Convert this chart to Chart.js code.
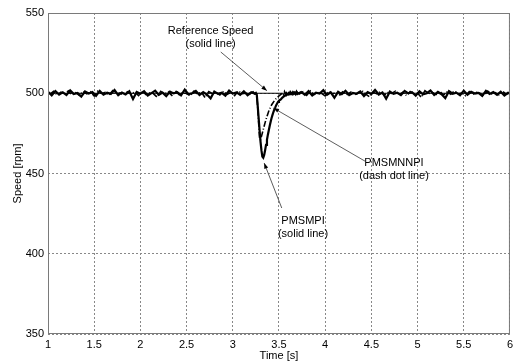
<html lang="en">
<head>
    <meta charset="UTF-8">
    <title>Speed response</title>
    <style>
        body { margin: 0; background: #fff; }
    </style>
</head>
<body>
    <canvas id="myChart" width="517" height="363"></canvas>

    <script src="https://cdn.jsdelivr.net/npm/chart.js@4"></script>
    <script>
        // time axis of PMSMPI [s]
        let piTime = [
            1.00,1.04,1.08,1.12,1.16,1.20,1.24,1.28,1.32,1.36,
            1.40,1.44,1.48,1.52,1.56,1.60,1.64,1.68,1.72,1.76,
            1.80,1.84,1.88,1.92,1.96,2.00,2.04,2.08,2.12,2.16,
            2.20,2.24,2.28,2.32,2.36,2.40,2.44,2.48,2.52,2.56,
            2.60,2.64,2.68,2.72,2.76,2.80,2.84,2.88,2.92,2.96,
            3.00,3.04,3.08,3.12,3.16,3.20,3.24,
            3.25,3.26,3.27,3.28,3.29,3.30,3.31,3.32,3.33,3.34,
            3.35,3.36,3.37,3.38,3.39,3.40,3.41,3.42,3.43,3.44,
            3.45,3.46,3.47,3.48,3.49,3.50,3.51,3.52,3.53,3.54,
            3.55,3.56,3.57,3.58,3.59,3.60,3.61,3.62,3.63,3.64,
            3.65,3.66,3.67,3.68,3.69,3.70,
            3.74,3.78,3.82,3.86,3.90,3.94,3.98,4.02,4.06,4.10,
            4.14,4.18,4.22,4.26,4.30,4.34,4.38,4.42,4.46,4.50,
            4.54,4.58,4.62,4.66,4.70,4.74,4.78,4.82,4.86,4.90,
            4.94,4.98,5.02,5.06,5.10,5.14,5.18,5.22,5.26,5.30,
            5.34,5.38,5.42,5.46,5.50,5.54,5.58,5.62,5.66,5.70,
            5.74,5.78,5.82,5.86,5.90,5.94,5.98,6.00
        ];
        // time axis of PMSMNNPI [s]
        let nnTime = [
            1.02,1.06,1.10,1.14,1.18,1.22,1.26,1.30,1.34,1.38,
            1.42,1.46,1.50,1.54,1.58,1.62,1.66,1.70,1.74,1.78,
            1.82,1.86,1.90,1.94,1.98,2.02,2.06,2.10,2.14,2.18,
            2.22,2.26,2.30,2.34,2.38,2.42,2.46,2.50,2.54,2.58,
            2.62,2.66,2.70,2.74,2.78,2.82,2.86,2.90,2.94,2.98,
            3.02,3.06,3.10,3.14,3.18,3.22,3.24,
            3.25,3.26,3.27,3.28,3.29,3.30,3.31,3.32,3.33,3.34,
            3.35,3.36,3.37,3.38,3.39,3.40,3.41,3.42,3.43,3.44,
            3.45,3.46,3.47,3.48,3.49,3.50,3.51,3.52,3.53,3.54,
            3.55,3.56,3.57,3.58,3.59,3.60,3.61,3.62,3.63,3.64,
            3.65,3.66,3.67,3.68,3.69,3.70,
            3.72,3.76,3.80,3.84,3.88,3.92,3.96,4.00,4.04,4.08,
            4.12,4.16,4.20,4.24,4.28,4.32,4.36,4.40,4.44,4.48,
            4.52,4.56,4.60,4.64,4.68,4.72,4.76,4.80,4.84,4.88,
            4.92,4.96,5.00,5.04,5.08,5.12,5.16,5.20,5.24,5.28,
            5.32,5.36,5.40,5.44,5.48,5.52,5.56,5.60,5.64,5.68,
            5.72,5.76,5.80,5.84,5.88,5.92,5.96,6.00
        ];
        // PMSMPI speed [rpm] (solid line)
        let piSpeed = [
            500.9,498.7,501.4,499.2,500.6,498.9,501.8,499.5,500.2,497.9,
            501.1,499.8,500.7,498.4,501.5,499.1,500.3,499.6,502.0,498.8,
            500.5,499.3,501.2,496.4,500.8,499.7,501.3,498.6,500.1,501.6,
            499.0,500.4,498.2,501.0,499.9,500.6,498.7,502.2,499.4,500.0,
            501.4,498.9,500.7,499.2,496.8,501.1,499.6,500.3,498.5,501.7,
            499.8,500.5,499.0,501.2,498.8,500.6,499.7,
            500.2,499.0,492.0,484.5,477.0,470.0,464.5,460.5,459.8,461.5,
            464.5,467.8,471.0,474.2,477.0,479.8,482.3,484.6,486.5,488.3,
            489.9,491.2,492.6,493.6,494.6,495.3,495.8,496.2,496.9,497.4,
            498.0,498.3,498.8,498.7,499.4,499.2,499.9,499.5,500.3,499.8,
            500.6,499.7,500.4,499.5,500.8,499.6,
            500.8,499.1,501.3,498.6,500.4,499.8,501.9,499.0,500.6,497.2,
            500.9,499.4,501.5,498.9,500.2,499.7,501.1,498.3,500.7,499.5,
            502.1,499.2,500.5,496.6,501.0,499.6,500.3,498.8,501.4,499.9,
            500.6,498.5,501.2,499.3,500.0,501.7,498.9,500.8,499.4,496.9,
            501.3,499.7,500.4,498.7,501.6,499.1,500.9,499.8,500.2,498.4,
            501.5,499.5,500.7,499.0,501.0,498.6,500.3,499.9
        ];
        // PMSMNNPI speed [rpm] (dash dot line)
        let nnSpeed = [
            499.3,501.2,498.9,500.7,499.5,501.5,499.0,500.4,498.6,501.1,
            499.7,500.9,498.3,501.3,499.9,500.5,498.8,501.6,499.4,500.2,
            498.9,501.0,499.6,500.7,498.5,501.4,499.2,500.3,499.8,497.6,
            501.2,499.5,500.9,498.7,501.5,499.1,500.4,499.9,498.4,501.3,
            499.6,500.8,497.3,501.0,499.7,500.5,498.9,501.2,499.3,500.6,
            498.6,501.4,499.8,500.1,499.2,500.9,499.5,
            499.8,498.6,491.0,481.5,471.5,471.0,473.0,475.2,477.4,479.6,
            481.7,483.7,485.6,487.3,488.9,490.3,491.6,492.7,493.6,494.5,
            495.3,496.0,496.7,497.3,497.8,498.3,498.8,499.3,499.6,500.2,
            499.2,501.0,499.6,500.3,498.9,501.2,499.5,500.7,499.1,500.9,
            499.4,500.5,499.8,501.1,499.3,500.6,
            499.5,500.9,498.7,501.4,499.2,500.6,499.9,498.4,501.2,499.6,
            500.5,498.9,501.7,499.3,500.8,499.0,500.3,501.5,499.4,497.8,
            500.7,499.6,501.1,498.8,500.4,499.9,501.3,499.1,500.6,498.6,
            501.0,499.5,500.2,497.4,501.6,499.8,500.5,499.2,501.2,498.9,
            500.8,499.4,501.4,499.7,500.1,498.5,501.0,499.3,500.6,499.9,
            498.8,501.3,499.6,500.4,499.0,501.1,499.5,500.3
        ];
        // reference speed [rpm]
        let refTime = [1, 6];
        let refSpeed = [500, 500];

        let xTicks = [1, 1.5, 2, 2.5, 3, 3.5, 4, 4.5, 5, 5.5, 6];
        let yTicks = [350, 400, 450, 500, 550];

        let fontName = "'Liberation Sans', Arial, sans-serif";

        // text labels with arrows, in data units
        let notes = [
            {lines: ['Reference Speed', '(solid line)'], at: [2.76, 539.0], gap: 8.1, from: [2.87, 525.7], to: [3.37, 501.6]},
            {lines: ['PMSMNNPI', '(dash dot line)'], at: [4.745, 456.5], gap: 8.1, from: [4.44, 457.4], to: [3.44, 490.8]},
            {lines: ['PMSMPI', '(solid line)'], at: [3.76, 420.4], gap: 8.1, from: [3.53, 428.5], to: [3.34, 456.5]}
        ];

        function pairs(xs, ys) {
            return xs.map((x, i) => ({x: x, y: ys[i]}));
        }

        let framePlugin = {
            id: 'frame',
            afterDatasetsDraw(chart) {
                let ctx = chart.ctx;
                let a = chart.chartArea;
                let sx = chart.scales.x, sy = chart.scales.y;
                ctx.save();
                ctx.strokeStyle = '#7a7a7a';
                ctx.lineWidth = 1;
                ctx.strokeRect(a.left + 0.5, a.top + 0.5, a.right - a.left - 1, a.bottom - a.top - 1);

                // annotations
                ctx.font = '11px ' + fontName;
                ctx.fillStyle = '#000';
                ctx.textAlign = 'center';
                ctx.textBaseline = 'middle';
                notes.forEach(n => {
                    n.lines.forEach((t, i) => {
                        ctx.fillText(t, sx.getPixelForValue(n.at[0]), sy.getPixelForValue(n.at[1] - i * n.gap));
                    });
                    let x1 = sx.getPixelForValue(n.from[0]), y1 = sy.getPixelForValue(n.from[1]);
                    let x2 = sx.getPixelForValue(n.to[0]), y2 = sy.getPixelForValue(n.to[1]);
                    ctx.strokeStyle = '#333';
                    ctx.lineWidth = 0.8;
                    ctx.beginPath();
                    ctx.moveTo(x1, y1);
                    ctx.lineTo(x2, y2);
                    ctx.stroke();
                    // arrow head
                    let ang = Math.atan2(y2 - y1, x2 - x1);
                    ctx.fillStyle = '#000';
                    ctx.beginPath();
                    ctx.moveTo(x2, y2);
                    ctx.lineTo(x2 - 6 * Math.cos(ang - 0.35), y2 - 6 * Math.sin(ang - 0.35));
                    ctx.lineTo(x2 - 6 * Math.cos(ang + 0.35), y2 - 6 * Math.sin(ang + 0.35));
                    ctx.closePath();
                    ctx.fill();
                });
                ctx.restore();
            }
        };

        let ctx = document.getElementById('myChart').getContext('2d');
        let chart = new Chart(ctx, {
            type: 'line',
            data: {
                datasets: [
                    {label: 'Reference Speed', data: pairs(refTime, refSpeed), borderColor: '#000', borderWidth: 1, pointRadius: 0},
                    {label: 'PMSMNNPI', data: pairs(nnTime, nnSpeed), borderColor: '#000', borderWidth: 1.6, borderDash: [6, 2, 1, 2], pointRadius: 0},
                    {label: 'PMSMPI', data: pairs(piTime, piSpeed), borderColor: '#000', borderWidth: 2.2, pointRadius: 0}
                ]
            },
            options: {
                responsive: false,
                animation: false,
                layout: {padding: {top: 13, right: 3, left: 0, bottom: 0}},
                plugins: {legend: {display: false}, tooltip: {enabled: false}},
                scales: {
                    x: {
                        type: 'linear', min: 1, max: 6,
                        afterBuildTicks: s => { s.ticks = xTicks.map(v => ({value: v})); },
                        afterFit: s => { s.height = 29; },
                        ticks: {color: '#000', font: {family: fontName, size: 11}, padding: 4, maxRotation: 0, callback: v => String(v)},
                        grid: {color: '#888', drawTicks: false},
                        border: {display: false, dash: [2, 2]},
                        title: {display: true, text: 'Time [s]', color: '#000', font: {family: fontName, size: 11}, padding: {top: 0, bottom: 0}}
                    },
                    y: {
                        min: 350, max: 550,
                        afterBuildTicks: s => { s.ticks = yTicks.map(v => ({value: v})); },
                        afterFit: s => { s.width = 48; },
                        ticks: {color: '#000', font: {family: fontName, size: 11}, padding: 4},
                        grid: {color: '#888', drawTicks: false},
                        border: {display: false, dash: [2, 2]},
                        title: {display: true, text: 'Speed [rpm]', color: '#000', font: {family: fontName, size: 11}, padding: {top: 11, bottom: 4}}
                    }
                }
            },
            plugins: [framePlugin]
        });
    </script>
</body>
</html>
